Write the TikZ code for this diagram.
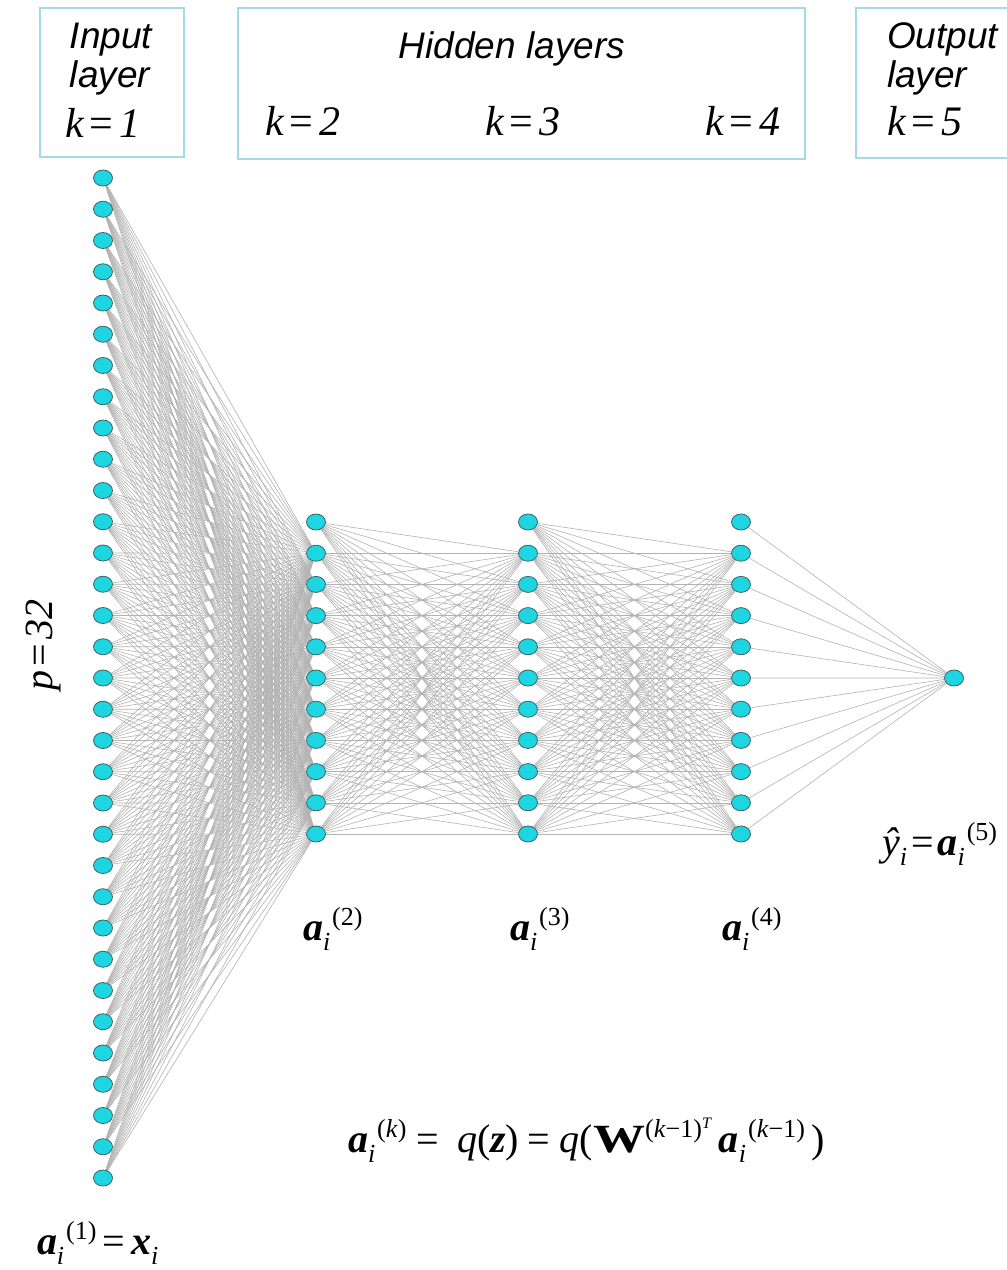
\documentclass[tikz,border=0pt]{standalone}
\usepackage{fontspec}
\newfontfamily\arialf{Liberation Sans}
\newfontfamily\tms{Liberation Serif}
\usetikzlibrary{shapes.geometric,backgrounds}
\definecolor{boxblue}{HTML}{A3D9E8}
\definecolor{neuronfill}{HTML}{1ED6E2}
\definecolor{neuronline}{HTML}{3F6166}
\newcommand\mfont{\fontsize{40}{44}\selectfont\tms}
\newcommand\sfont{\fontsize{26}{28}\selectfont\tms\upshape\mdseries}
\newcommand\hfont{\fontsize{37}{41}\selectfont\arialf\itshape}
\newcommand\aisub[1]{{\bfseries\itshape a}\raisebox{-10pt}{\sfont\itshape i}\hspace{2pt}\raisebox{15pt}{\sfont #1}}
\newcommand\keq[1]{{\fontsize{42}{46}\selectfont\tms\itshape k\hspace{6pt}\upshape=\hspace{6pt}\itshape #1}}
\tikzset{
  neuron/.style={ellipse, draw=neuronline, line width=0.8pt, fill=neuronfill,
    minimum width=19pt, minimum height=16pt, inner sep=0pt},
  edge/.style={draw=black!30, line width=0.6pt},
  layerbox/.style={draw=boxblue, line width=2pt},
  lbl/.style={inner sep=0pt, outer sep=0pt},
}
\begin{document}
\begin{tikzpicture}[x=1pt,y=-1pt]
\useasboundingbox (0,0) rectangle (1007,1270);
% header boxes
\draw[layerbox] (40,8) rectangle (184,157);
\draw[layerbox] (238,8) rectangle (805,159);
\draw[layerbox] (856,8) rectangle (1012,158);
\node[lbl, anchor=base] (tin1) at (111,48) {\hfont Input};
\node[lbl, anchor=base] (tin2) at (110,87) {\hfont layer};
\node[lbl, anchor=base west] (k1) at (65,137) {\keq{1}};
\node[lbl, anchor=base] (thid) at (512,58) {\hfont Hidden layers};
\node[lbl, anchor=base west] (k2) at (265,135) {\keq{2}};
\node[lbl, anchor=base west] (k3) at (485,135) {\keq{3}};
\node[lbl, anchor=base west] (k4) at (705,135) {\keq{4}};
\node[lbl, anchor=base west] (tout1) at (887,48) {\hfont Output};
\node[lbl, anchor=base west] (tout2) at (887,87) {\hfont layer};
\node[lbl, anchor=base west] (k5) at (887,135) {\keq{5}};
% p = 32
\node[lbl, rotate=90] (pl) at (44,645) {\fontsize{40}{44}\selectfont\tms\itshape p\hspace{4pt}\upshape=\hspace{4pt}\itshape 32};
% neurons
\foreach \j in {0,...,32} \node[neuron] (i\j) at (103,178+31.25*\j) {};
\foreach \L/\x in {2/316,3/528,4/741}
  \foreach \j in {0,...,10} \node[neuron] (h\L-\j) at (\x,522+31.2*\j) {};
\node[neuron] (o) at (954,678) {};
% edges
\begin{scope}[on background layer]
\foreach \a in {0,...,32} \foreach \b in {1,...,10} \draw[edge] (i\a) -- (h2-\b);
\foreach \a in {0,...,10} \foreach \b in {1,...,10} \draw[edge] (h2-\a) -- (h3-\b);
\foreach \a in {0,...,10} \foreach \b in {1,...,10} \draw[edge] (h3-\a) -- (h4-\b);
\foreach \a in {0,...,10} \draw[edge] (h4-\a) -- (o);
\end{scope}
% labels
\node[lbl, anchor=base west] (a2) at (303,940) {\mfont\aisub{(2)}};
\node[lbl, anchor=base west] (a3) at (510,940) {\mfont\aisub{(3)}};
\node[lbl, anchor=base west] (a4) at (722,940) {\mfont\aisub{(4)}};
\node[lbl, anchor=base west] (a5) at (882,855) {\mfont{\itshape ŷ}\raisebox{-10pt}{\sfont\itshape i}\hspace{5pt}=\hspace{3pt}\aisub{(5)}};
\node[lbl, anchor=base west] (a1) at (37,1254) {\mfont\aisub{(1)}\hspace{6pt}=\hspace{6pt}{\bfseries\itshape x}\raisebox{-10pt}{\sfont\itshape i}};
\node[lbl, anchor=base west] (form) at (348,1152) {\mfont\aisub{(\textit{k})}\hspace{10pt}=\hspace{18pt}{\itshape q}({\bfseries\itshape z})\hspace{8pt}=\hspace{10pt}{\itshape q}(\scalebox{1.3}[1]{\bfseries W}\raisebox{15pt}{\sfont(\textit{k}−1)\raisebox{9pt}{\fontsize{16}{16}\selectfont\itshape T}}\hspace{8pt}\aisub{(\textit{k}−1)}\hspace{6pt})};
\end{tikzpicture}
\end{document}
